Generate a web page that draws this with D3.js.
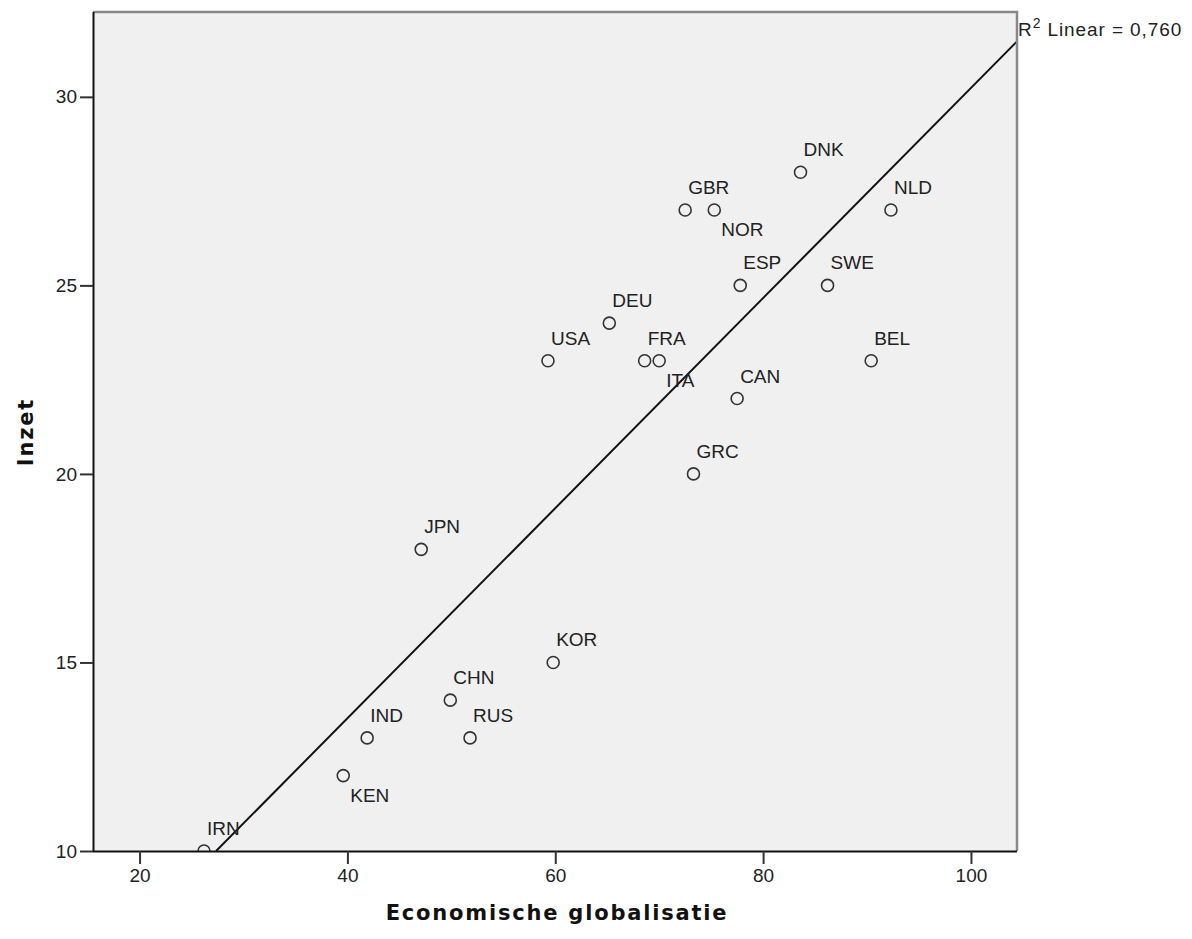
<!DOCTYPE html>
<html>
<head>
<meta charset="utf-8">
<script src="https://cdn.jsdelivr.net/npm/d3@7"></script>
<style>
  body { margin: 0; background: #fff; }
</style>
</head>
<body>
<svg id="chart" width="1192" height="939"></svg>
<script>
// country codes, economic globalisation, inzet
var countries = ["IRN", "KEN", "IND", "CHN", "RUS", "KOR", "JPN", "USA", "DEU", "FRA",
                 "ITA", "GBR", "NOR", "ESP", "CAN", "GRC", "DNK", "SWE", "BEL", "NLD"];
var globalisatie = [26.2, 39.6, 41.9, 49.9, 51.8, 59.8, 47.1, 59.3, 65.2, 68.6,
                    70.0, 72.5, 75.3, 77.8, 77.5, 73.3, 83.6, 86.2, 90.4, 92.3];
var inzet = [10, 12, 13, 14, 13, 15, 18, 23, 24, 23,
             23, 27, 27, 25, 22, 20, 28, 25, 23, 27];
// labels drawn under the point instead of above
var belowLabels = ["KEN", "NOR", "ITA"];
var xTicks = [20, 40, 60, 80, 100];
var yTicks = [10, 15, 20, 25, 30];

var FONT = "'Liberation Sans', Arial, sans-serif";
var svg = d3.select("#chart");

var pl = 93, pr = 1017, pt = 12, pb = 851;

var x = d3.scaleLinear().domain([15.52, 104.43]).range([pl, pr]);
var y = d3.scaleLinear().domain([10, 32.25]).range([pb, pt]);

var data = countries.map(function (c, i) {
  return { code: c, x: globalisatie[i], y: inzet[i] };
});

// plot background
svg.append("rect")
  .attr("x", pl).attr("y", pt)
  .attr("width", pr - pl).attr("height", pb - pt)
  .attr("fill", "#f0f0f0");

svg.append("clipPath").attr("id", "plotclip")
  .append("rect")
  .attr("x", pl).attr("y", pt)
  .attr("width", pr - pl).attr("height", pb - pt);

// least squares fit
var mx = d3.mean(data, d => d.x), my = d3.mean(data, d => d.y);
var sxy = d3.sum(data, d => (d.x - mx) * (d.y - my));
var sxx = d3.sum(data, d => (d.x - mx) * (d.x - mx));
var slope = sxy / sxx;
var icpt = my - slope * mx;
var x0 = (10 - icpt) / slope, x1 = x.domain()[1];

// points
svg.append("g")
  .attr("clip-path", "url(#plotclip)")
  .selectAll("circle")
  .data(data)
  .join("circle")
  .attr("cx", d => x(d.x))
  .attr("cy", d => y(d.y))
  .attr("r", 6)
  .attr("fill", "none")
  .attr("stroke", "#333")
  .attr("stroke-width", 1.6);

svg.append("line")
  .attr("clip-path", "url(#plotclip)")
  .attr("x1", x(x0)).attr("y1", y(icpt + slope * x0))
  .attr("x2", x(x1)).attr("y2", y(icpt + slope * x1))
  .attr("stroke", "#111")
  .attr("stroke-width", 2);

// point labels
svg.append("g")
  .selectAll("text")
  .data(data)
  .join("text")
  .attr("x", d => x(d.x) + (belowLabels.includes(d.code) ? 7 : 3))
  .attr("y", d => y(d.y) + (belowLabels.includes(d.code) ? 26 : -16))
  .attr("font-family", FONT)
  .attr("font-size", 19)
  .attr("fill", "#222")
  .text(d => d.code);

// top & right frame
svg.append("path")
  .attr("d", `M${pl},${pt}H${pr}V${pb}`)
  .attr("fill", "none")
  .attr("stroke", "#888")
  .attr("stroke-width", 2.5);

// axes
var xAxis = svg.append("g")
  .attr("transform", `translate(0,${pb})`)
  .call(d3.axisBottom(x).tickValues(xTicks).tickSize(13).tickPadding(5).tickFormat(d3.format("d")));
var yAxis = svg.append("g")
  .attr("transform", `translate(${pl},0)`)
  .call(d3.axisLeft(y).tickValues(yTicks).tickSize(13).tickPadding(3).tickFormat(d3.format("d")));

[xAxis, yAxis].forEach(function (a) {
  a.select(".domain").attr("stroke", "#111").attr("stroke-width", 2);
  a.selectAll(".tick line").attr("stroke", "#333").attr("stroke-width", 2);
  a.selectAll(".tick text")
    .attr("font-family", FONT)
    .attr("font-size", 19).attr("fill", "#222");
});
xAxis.select(".domain").attr("d", `M${pl},0.5H${pr}`);
yAxis.select(".domain").attr("d", `M0.5,${pb}V${pt}`);

// R2 label
var r2text = svg.append("text")
  .attr("x", 1018).attr("y", 36)
  .attr("font-family", FONT)
  .attr("font-size", 19)
  .attr("letter-spacing", 0.9)
  .attr("fill", "#222");
r2text.append("tspan").text("R");
r2text.append("tspan").attr("font-size", 14).attr("dy", -8).text("2");
r2text.append("tspan").attr("dy", 8).text(" Linear = 0,760");

// axis titles
svg.append("text")
  .attr("x", (pl + pr) / 2 + 2).attr("y", 920)
  .attr("text-anchor", "middle")
  .attr("font-family", "'DejaVu Sans', sans-serif")
  .attr("font-weight", "bold")
  .attr("font-size", 21)
  .attr("letter-spacing", 1.8)
  .attr("fill", "#111")
  .text("Economische globalisatie");

svg.append("text")
  .attr("transform", "translate(33,432) rotate(-90)")
  .attr("text-anchor", "middle")
  .attr("font-family", "'DejaVu Sans', sans-serif")
  .attr("font-weight", "bold")
  .attr("font-size", 21)
  .attr("letter-spacing", 1.8)
  .attr("fill", "#111")
  .text("Inzet");
</script>
</body>
</html>
